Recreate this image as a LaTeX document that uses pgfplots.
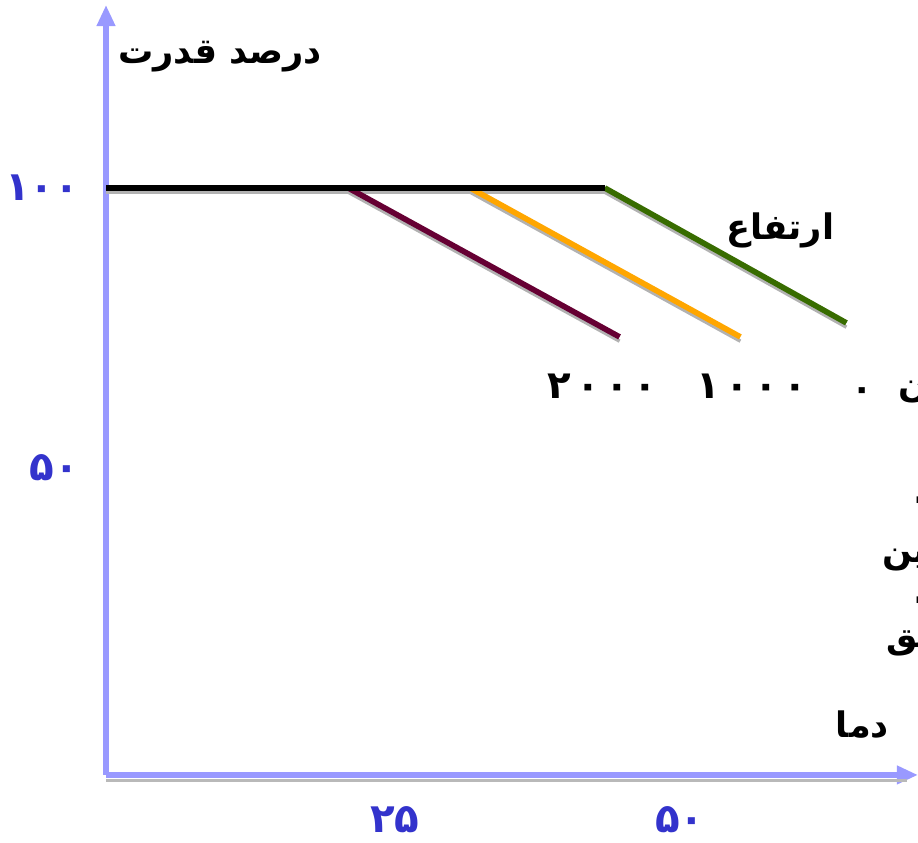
\documentclass[border=0pt]{standalone}
\usepackage{pgfplots}
\pgfplotsset{compat=1.18}
\usepackage{fontspec}
\usetikzlibrary{arrows.meta}
\newfontfamily\arabicfont[Script=Arabic]{DejaVu Sans}
\TeXXeTstate=1

\definecolor{axisblue}{RGB}{153,153,255}
\definecolor{tickblue}{RGB}{51,51,204}
\definecolor{wine}{RGB}{102,0,51}
\definecolor{amber}{RGB}{255,166,0}
\definecolor{olive}{RGB}{56,108,0}

\begin{document}
\begin{tikzpicture}
\begin{axis}[
    scale only axis,
    width=16.24cm, height=15.4cm,
    xmin=-0.35, xmax=70.88,
    ymin=-4.82, ymax=132.68,
    axis lines=left,
    axis line style={draw=axisblue, line width=3.6pt,
        -{Triangle[length=12pt,width=10pt]}},
    clip=false,
    xtick={25,50}, xticklabels={۲۵,۵۰},
    ytick={50,100}, yticklabels={۵۰,۱۰۰},
    major tick length=0pt,
    tick style={draw=none},
    ticklabel style={font=\arabicfont\bfseries\fontsize{23}{27}\selectfont,
        text=tickblue, inner sep=1pt},
    xticklabel style={yshift=-17pt},
    yticklabel style={xshift=-14pt},
]
% gray shadows
\addplot[gray!60, line width=2pt, yshift=-2.4pt, forget plot]
    coordinates {(20.9,100) (44.7,73.4)};
\addplot[gray!60, line width=2pt, yshift=-2.4pt, forget plot]
    coordinates {(31.6,100) (55.3,73.4)};
\addplot[gray!60, line width=2pt, yshift=-2.4pt, forget plot]
    coordinates {(43.4,100) (64.6,75.9)};
\addplot[gray!60, line width=2pt, yshift=-2.6pt, forget plot]
    coordinates {(-0.35,100) (43.4,100)};

% 2000 m
\addplot[wine, line width=3.2pt] coordinates {(20.9,100) (44.7,73.4)};
% 1000 m
\addplot[amber, line width=3.2pt] coordinates {(31.6,100) (55.3,73.4)};
% 0 m
\addplot[olive, line width=3.2pt] coordinates {(43.4,100) (64.6,75.9)};
% flat part
\addplot[black, line width=3.6pt] coordinates {(-0.35,100) (43.4,100)};

\draw[gray!55, line width=1.6pt]
    ([yshift=-3pt]rel axis cs:0,0) -- ([yshift=-3pt,xshift=-6pt]rel axis cs:1,0);

\begin{scope}[font=\arabicfont\bfseries\fontsize{20}{24}\selectfont]
\node at (axis cs:9.65,123.4) {\beginR درصد قدرت\endR};
\node at (axis cs:58.8,92.5) {\beginR ارتفاع\endR};
\node at (axis cs:43.2,64.6) {\fontsize{22}{26}\selectfont ۲\hspace{3pt}۰\hspace{3pt}۰\hspace{3pt}۰};
\node at (axis cs:56.3,64.6) {\fontsize{22}{26}\selectfont ۱\hspace{3pt}۰\hspace{3pt}۰\hspace{3pt}۰};
\node at (axis cs:66.0,63.2) {۰};
\node[anchor=west] at (axis cs:68.6,64.8) {\beginR سطح زمین\endR};
\node[anchor=west] at (axis cs:69.9,44.3) {.};
\node[anchor=west] at (axis cs:67.2,34.8) {\beginR ماشین\endR};
\node[anchor=west] at (axis cs:69.9,26.4) {.};
\node[anchor=west] at (axis cs:67.6,19.6) {\beginR مطلق\endR};
\node at (axis cs:66.0,4.1) {\beginR دما\endR};
\end{scope}

\coordinate (bl) at (axis cs:-9.65,-16.96);
\coordinate (tr) at (axis cs:70.88,133.57);
\end{axis}
\pgfresetboundingbox
\useasboundingbox (bl) rectangle (tr);
\end{tikzpicture}
\end{document}
